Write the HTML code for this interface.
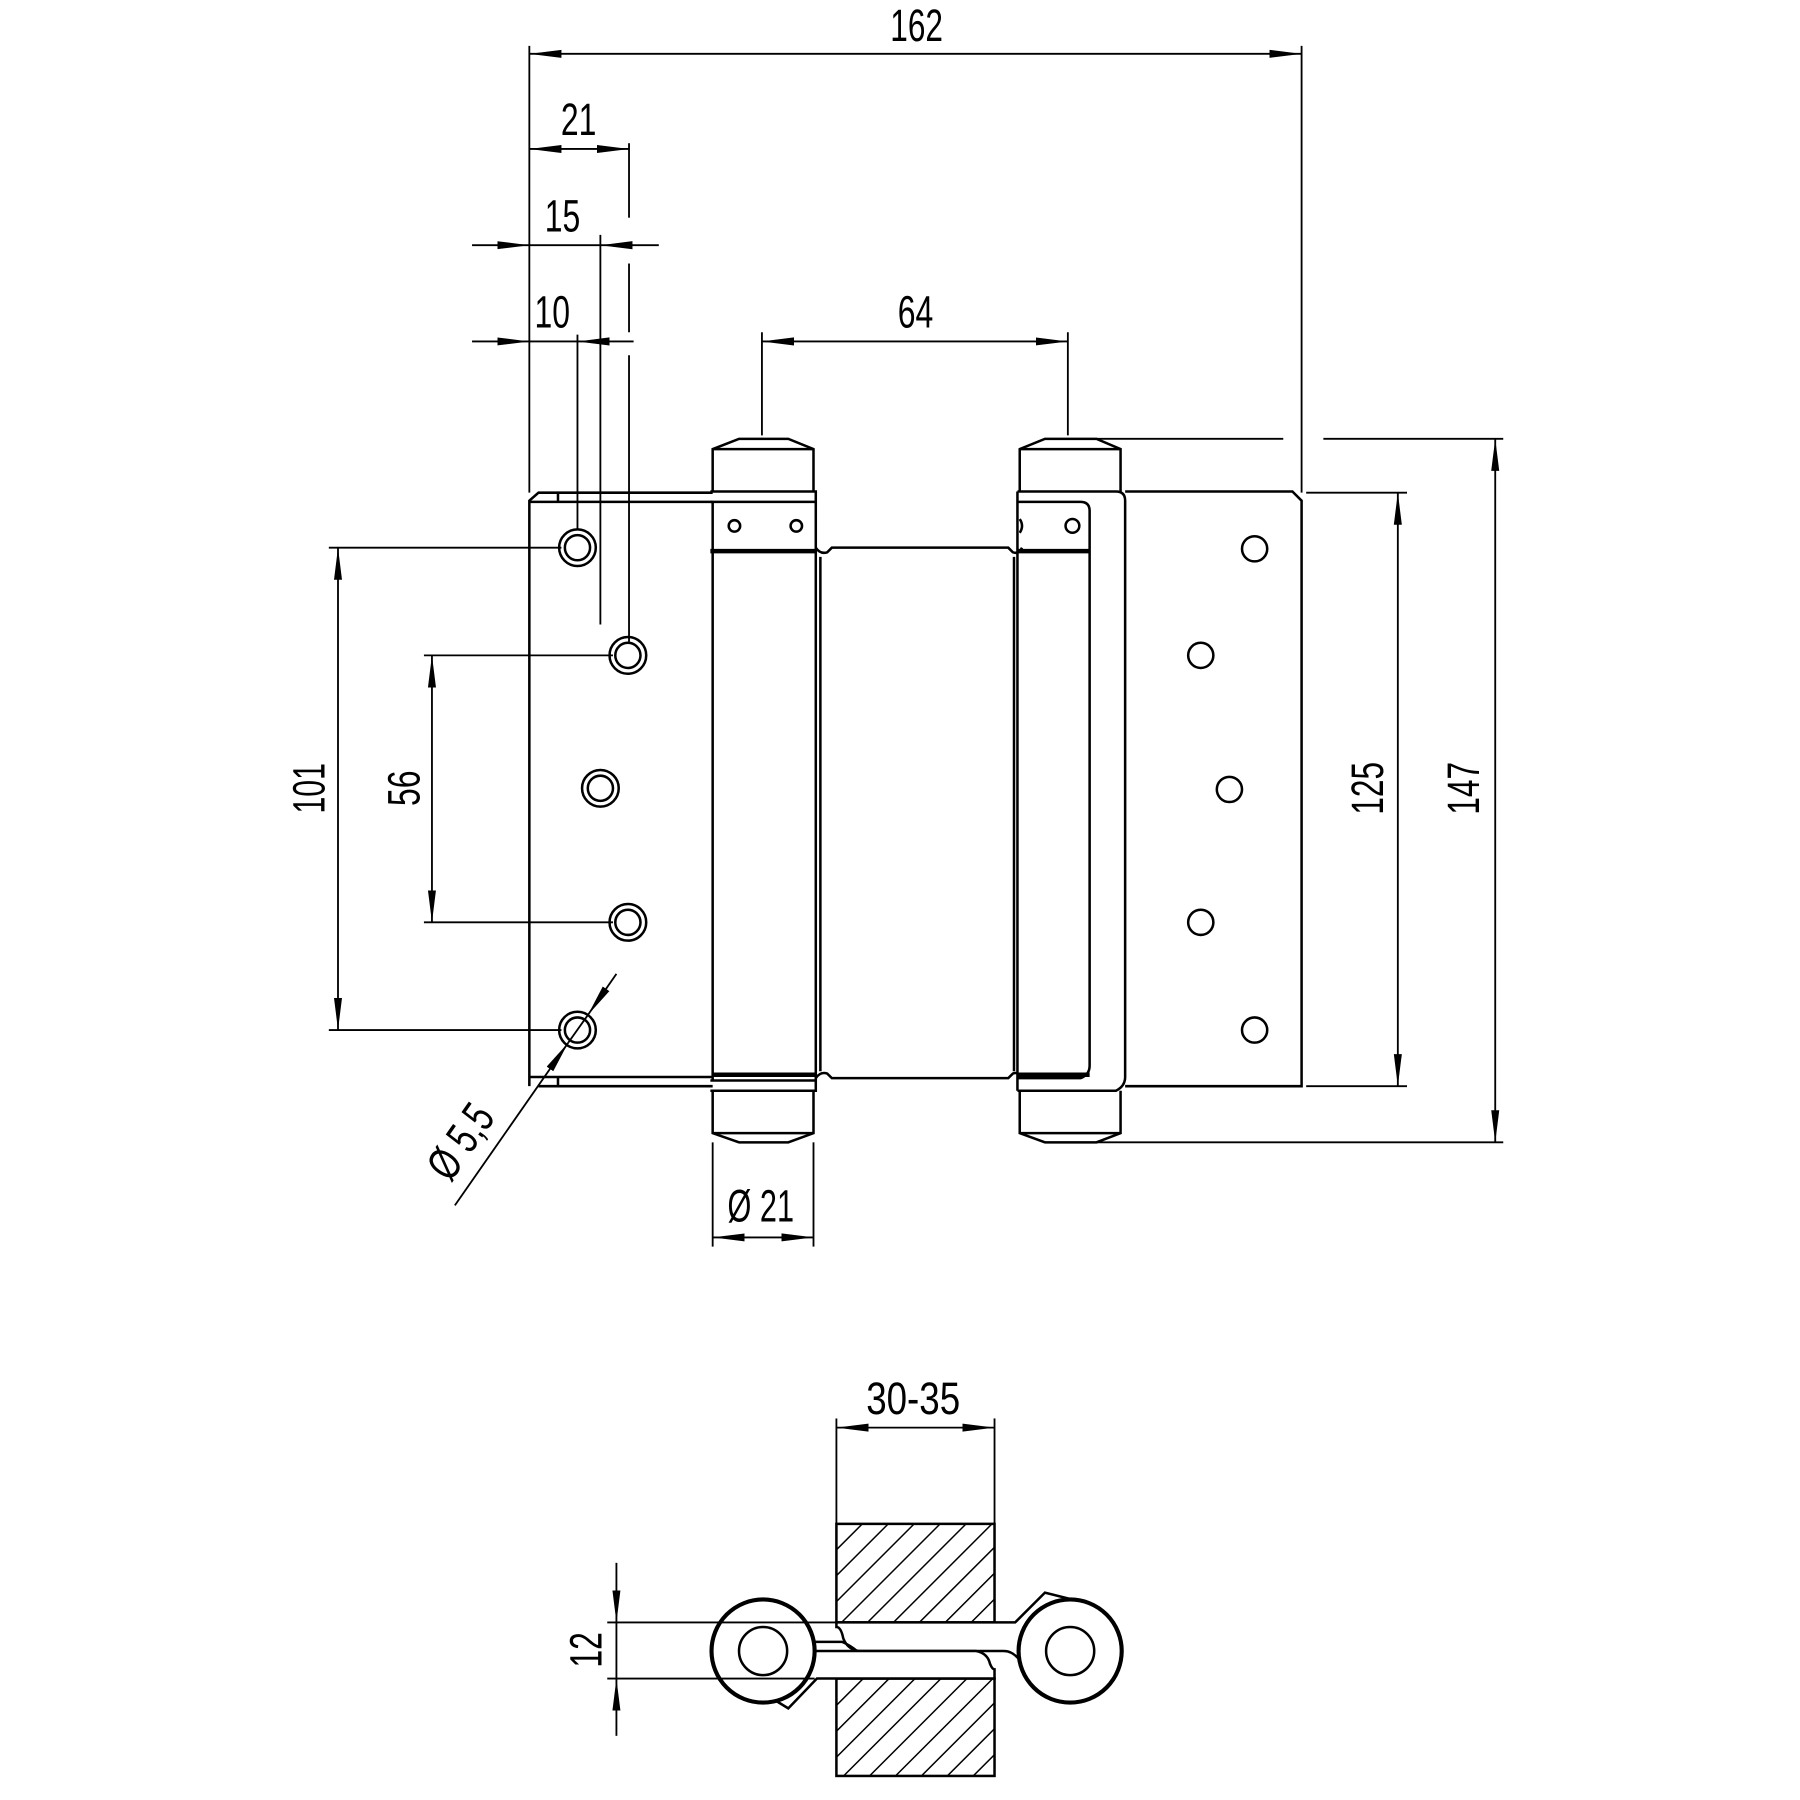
<!DOCTYPE html>
<html><head><meta charset="utf-8"><style>html,body{margin:0;padding:0;background:#fff}svg{display:block}</style></head>
<body>
<svg width="1800" height="1800" viewBox="0 0 1571 1571" xmlns="http://www.w3.org/2000/svg">
<defs>
<marker id="a" markerUnits="userSpaceOnUse" markerWidth="30" markerHeight="12" refX="28" refY="5" orient="auto-start-reverse" viewBox="0 0 30 10"><path d="M0,1.5 L28,5 L0,8.5 Z" fill="#000"/></marker>
<pattern id="h" patternUnits="userSpaceOnUse" width="16" height="16" patternTransform="rotate(45)"><line x1="0" y1="0" x2="0" y2="16" stroke="#000" stroke-width="2.6"/></pattern>
</defs>
<g fill="none" stroke="#000" stroke-width="1.6">
<line x1="462" y1="40" x2="462" y2="430"/><line x1="1136" y1="40" x2="1136" y2="430"/>
<line x1="462" y1="47" x2="1136" y2="47" marker-start="url(#a)" marker-end="url(#a)"/>
<line x1="549" y1="125" x2="549" y2="190"/><line x1="549" y1="230" x2="549" y2="290"/><line x1="549" y1="310" x2="549" y2="560"/>
<line x1="462" y1="130" x2="549" y2="130" marker-start="url(#a)" marker-end="url(#a)"/>
<line x1="412" y1="214" x2="462" y2="214" marker-end="url(#a)"/><line x1="575" y1="214" x2="524" y2="214" marker-end="url(#a)"/>
<line x1="462" y1="214" x2="524" y2="214"/>
<line x1="524" y1="205" x2="524" y2="545"/>
<line x1="412" y1="298" x2="462" y2="298" marker-end="url(#a)"/><line x1="553" y1="298" x2="504" y2="298" marker-end="url(#a)"/>
<line x1="462" y1="298" x2="504" y2="298"/>
<line x1="504" y1="292" x2="504" y2="462"/>
<line x1="665" y1="290" x2="665" y2="380"/><line x1="932" y1="290" x2="932" y2="380"/>
<line x1="665" y1="298" x2="932" y2="298" marker-start="url(#a)" marker-end="url(#a)"/>
<line x1="287" y1="478" x2="490" y2="478"/><line x1="287" y1="899" x2="490" y2="899"/>
<line x1="295" y1="478" x2="295" y2="899" marker-start="url(#a)" marker-end="url(#a)"/>
<line x1="370" y1="572" x2="535" y2="572"/><line x1="370" y1="805" x2="535" y2="805"/>
<line x1="377" y1="572" x2="377" y2="805" marker-start="url(#a)" marker-end="url(#a)"/>
<line x1="1140" y1="430" x2="1228" y2="430"/><line x1="1140" y1="948" x2="1228" y2="948"/>
<line x1="1220" y1="430" x2="1220" y2="948" marker-start="url(#a)" marker-end="url(#a)"/>
<line x1="957" y1="383" x2="1120" y2="383"/><line x1="1155" y1="383" x2="1312" y2="383"/>
<line x1="957" y1="997" x2="1312" y2="997"/>
<line x1="1305" y1="383" x2="1305" y2="997" marker-start="url(#a)" marker-end="url(#a)"/>
<line x1="622" y1="997" x2="622" y2="1088"/><line x1="710" y1="997" x2="710" y2="1088"/>
<line x1="622" y1="1080" x2="710" y2="1080" marker-start="url(#a)" marker-end="url(#a)"/>
<line x1="397" y1="1052" x2="496" y2="910" marker-end="url(#a)"/>
<line x1="538" y1="850" x2="513" y2="886" marker-end="url(#a)"/>
<line x1="496" y1="910" x2="513" y2="886"/>
</g>

<g fill="none" stroke="#000" stroke-width="2.2">
<path d="M462,948 L462,437 L470,430 L622,430"/>
<line x1="462" y1="438" x2="622" y2="438"/><line x1="487" y1="430" x2="487" y2="438"/>
<path d="M462,940 L622,940"/><path d="M470,948 L622,948"/><line x1="487" y1="940" x2="487" y2="948"/>
<circle cx="504" cy="478" r="16"/><circle cx="504" cy="478" r="11"/>
<circle cx="548" cy="572" r="16"/><circle cx="548" cy="572" r="11"/>
<circle cx="524" cy="688" r="16"/><circle cx="524" cy="688" r="11"/>
<circle cx="548" cy="805" r="16"/><circle cx="548" cy="805" r="11"/>
<circle cx="504" cy="899" r="16"/><circle cx="504" cy="899" r="11"/>
<!-- left knuckle -->
<path d="M622,429 L622,392 L645,383 L688,383 L710,392 L710,429"/>
<line x1="622" y1="392" x2="710" y2="392"/>
<path d="M620,429 L712,429 L712,438 L620,438"/>
<line x1="622" y1="438" x2="622" y2="943"/><line x1="712" y1="438" x2="712" y2="943"/>
<line x1="620" y1="481" x2="712" y2="481" stroke-width="4"/>
<circle cx="641" cy="459" r="5"/><circle cx="695" cy="459" r="5"/>
<line x1="622" y1="938" x2="712" y2="938" stroke-width="4"/>
<path d="M620,943 L712,943 L712,952 L620,952"/>
<path d="M622,952 L622,989 L645,997 L688,997 L710,989 L710,952"/>
<line x1="622" y1="989" x2="710" y2="989"/>
<!-- middle -->
<line x1="716" y1="486" x2="716" y2="935"/>
<line x1="885" y1="486" x2="885" y2="935"/>
<path d="M712,478 Q716,484 722,482 L726,478 L880,478 L884,482 Q889,484 892,478"/>
<path d="M712,941 Q716,935 722,937 L726,941 L880,941 L884,937 Q889,935 892,941"/>
<!-- right knuckle -->
<path d="M890,429 L890,392 L912,383 L957,383 L978,392 L978,429"/>
<line x1="890" y1="392" x2="978" y2="392"/>
<line x1="888" y1="429" x2="888" y2="952"/>
<path d="M888,429 L974,429 Q982,429 982,437 L982,940 Q982,948 974,952 L888,952"/>
<path d="M888,438 L943,438 Q951,438 951,446 L951,930 Q951,938 943,941 L888,941"/>
<line x1="888" y1="481" x2="951" y2="481" stroke-width="4"/>
<line x1="888" y1="938" x2="951" y2="938" stroke-width="4"/>
<circle cx="936" cy="459" r="6"/><path d="M890,453 Q894,459 890,465"/>
<path d="M890,952 L890,989 L912,997 L957,997 L978,989 L978,952"/>
<line x1="890" y1="989" x2="978" y2="989"/>
<!-- right plate -->
<path d="M982,429 L1128,429 L1136,437 L1136,948 L982,948"/>
<circle cx="1095" cy="479" r="11"/><circle cx="1048" cy="572" r="11"/><circle cx="1073" cy="689" r="11"/><circle cx="1048" cy="805" r="11"/><circle cx="1095" cy="899" r="11"/>
</g>

<!-- bottom section -->
<g stroke="#000" stroke-width="1.6" fill="none">
<line x1="730" y1="1238" x2="730" y2="1330"/><line x1="868" y1="1238" x2="868" y2="1330"/>
<line x1="730" y1="1246" x2="868" y2="1246" marker-start="url(#a)" marker-end="url(#a)"/>
<line x1="538" y1="1364" x2="538" y2="1416" marker-end="url(#a)"/>
<line x1="538" y1="1515" x2="538" y2="1465" marker-end="url(#a)"/>
<line x1="538" y1="1416" x2="538" y2="1465"/>
</g>
<g stroke="#000" stroke-width="2.2">
<rect x="730" y="1330" width="138" height="86" fill="url(#h)"/>
<rect x="730" y="1465" width="138" height="85" fill="url(#h)"/>
<path d="M730,1416 L886,1416 L912,1390 L932,1395 L935,1441 L890,1449 Q884,1441 876,1441 L750,1441 Q740,1440 736,1430 Q734,1420 730,1420 Z" fill="#fff"/>
<path d="M700,1441 L852,1441 Q862,1443 864,1452 Q866,1457 868,1457 L868,1465 L713,1465 L688,1491 L670,1480 Z" fill="#fff"/>
<path d="M708,1433 L735,1433 Q742,1436 748,1441" fill="none"/>
<circle cx="666" cy="1441" r="45" fill="#fff" stroke-width="3.6"/>
<circle cx="666" cy="1441" r="21" fill="none"/>
<circle cx="934" cy="1441" r="45" fill="#fff" stroke-width="3.6"/>
<circle cx="934" cy="1441" r="21" fill="none"/>
</g>
<g stroke="#000" stroke-width="1.6">
<line x1="530" y1="1416" x2="730" y2="1416"/><line x1="530" y1="1465" x2="711" y2="1465"/>
</g>

<g font-family="Liberation Sans, sans-serif" font-size="40" fill="#000" text-anchor="middle">
<text x="800" y="36" textLength="46" lengthAdjust="spacingAndGlyphs">162</text>
<text x="505" y="118" textLength="31" lengthAdjust="spacingAndGlyphs">21</text>
<text x="491" y="202" textLength="31" lengthAdjust="spacingAndGlyphs">15</text>
<text x="482" y="286" textLength="31" lengthAdjust="spacingAndGlyphs">10</text>
<text x="799" y="286" textLength="31" lengthAdjust="spacingAndGlyphs">64</text>
<text transform="translate(283,688) rotate(-90)" textLength="44" lengthAdjust="spacingAndGlyphs">101</text>
<text transform="translate(366,688) rotate(-90)" textLength="31" lengthAdjust="spacingAndGlyphs">56</text>
<text transform="translate(1207,688) rotate(-90)" textLength="46" lengthAdjust="spacingAndGlyphs">125</text>
<text transform="translate(1291,688) rotate(-90)" textLength="46" lengthAdjust="spacingAndGlyphs">147</text>
<text x="664" y="1066" textLength="58" lengthAdjust="spacingAndGlyphs">Ø 21</text>
<text transform="translate(413,1004) rotate(-55)" textLength="70" lengthAdjust="spacingAndGlyphs">Ø 5,5</text>
<text x="797" y="1234" textLength="82" lengthAdjust="spacingAndGlyphs">30-35</text>
<text transform="translate(525,1440) rotate(-90)" textLength="31" lengthAdjust="spacingAndGlyphs">12</text>
</g>
</svg>
</body></html>
